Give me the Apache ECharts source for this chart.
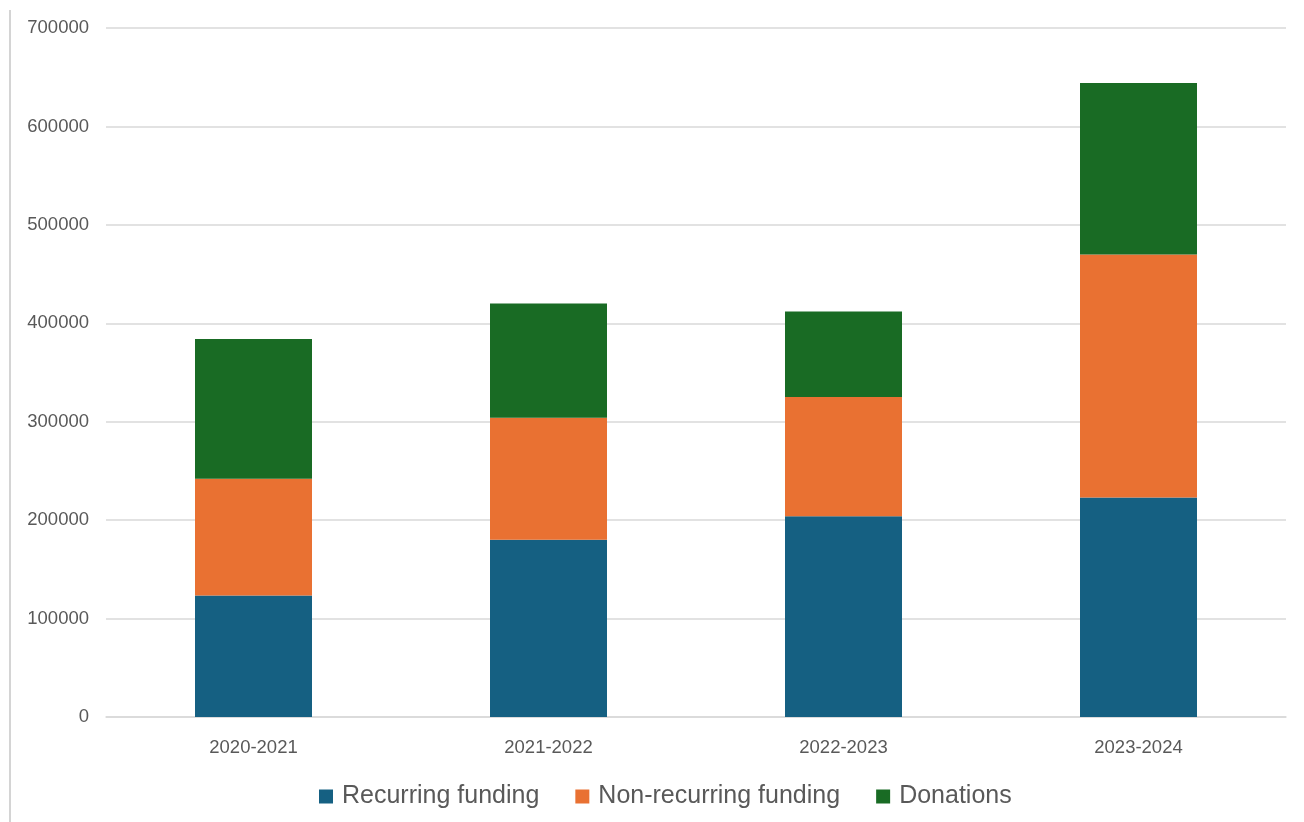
<!DOCTYPE html>
<html>
<head>
<meta charset="utf-8">
<script src="https://cdn.jsdelivr.net/npm/echarts@6/dist/echarts.min.js"></script>
<style>
html,body{margin:0;padding:0;background:#fff;}
#chart{width:1304px;height:822px;}
</style>
</head>
<body>
<div id="chart"></div>
<script>
var categories = ['2020-2021', '2021-2022', '2022-2023', '2023-2024'];
var recurringFunding = [123500, 180000, 204000, 223000];
var nonRecurringFunding = [118500, 124000, 121000, 247000];
var donations = [142000, 116000, 87000, 174000];
var seriesNames = ['Recurring funding', 'Non-recurring funding', 'Donations'];
var colors = ['#156082', '#E97132', '#196B24'];

var chart = echarts.init(document.getElementById('chart'), null, {renderer: 'canvas'});
var font = "'Liberation Sans', Arial, sans-serif";
function bar(name, data, color) {
  return {
    name: name, type: 'bar', stack: 'total', data: data,
    barWidth: 117,
    itemStyle: {color: color},
    emphasis: {disabled: true}
  };
}
chart.setOption({
  animation: false,
  backgroundColor: '#ffffff',
  grid: {left: 106, right: 18, top: 28, bottom: 105, containLabel: false},
  graphic: [{
    type: 'line', shape: {x1: 10, y1: 10, x2: 10, y2: 822},
    style: {stroke: '#d4d4d4', lineWidth: 2}, silent: true
  }],
  legend: {
    data: seriesNames,
    left: 314, top: 779,
    itemWidth: 14, itemHeight: 14, itemGap: 36,
    icon: 'rect',
    textStyle: {fontFamily: font, fontSize: 25, color: '#595959', padding: [0, 0, 0, 4]}
  },
  xAxis: {
    type: 'category', data: categories,
    axisLine: {lineStyle: {color: '#d9d9d9', width: 1.5}},
    axisTick: {show: false},
    axisLabel: {fontFamily: font, fontSize: 18.5, color: '#595959', margin: 21}
  },
  yAxis: {
    type: 'value', min: 0, max: 700000, interval: 100000,
    axisLine: {show: false}, axisTick: {show: false},
    splitLine: {lineStyle: {color: '#d9d9d9', width: 1.5}},
    axisLabel: {fontFamily: font, fontSize: 18.5, color: '#595959', margin: 17,
      formatter: function (v) { return String(v); }}
  },
  series: [
    bar(seriesNames[0], recurringFunding, colors[0]),
    bar(seriesNames[1], nonRecurringFunding, colors[1]),
    bar(seriesNames[2], donations, colors[2])
  ]
});
</script>
</body>
</html>
